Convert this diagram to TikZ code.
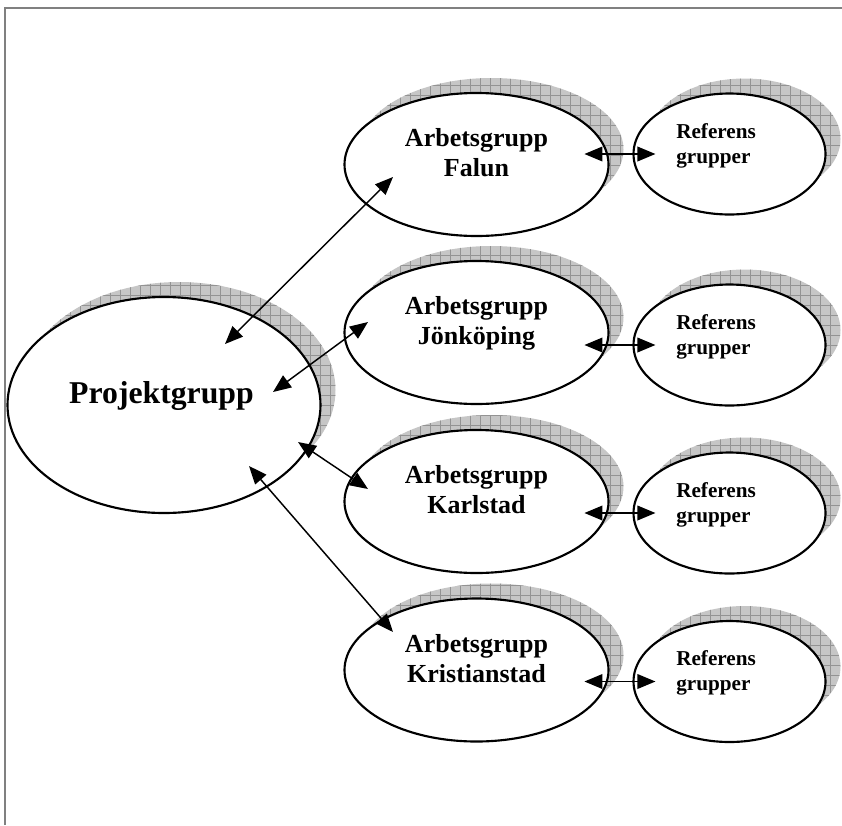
\documentclass[tikz,border=0pt]{standalone}
\usepackage{fontspec}
\setmainfont{Liberation Serif}
\usetikzlibrary{shapes.geometric,arrows.meta,calc,patterns.meta}
\begin{document}
\begin{tikzpicture}[x=0.75pt,y=-0.75pt,
  ell/.style={ellipse, draw=black, line width=1.6pt, fill=white, inner sep=0pt},
  shadowell/.style={ellipse, inner sep=0pt, fill=gray!45,
    postaction={pattern={Hatch[angle=0,distance=7.5pt,line width=0.55pt]}, pattern color=gray!85}},
  bigsize/.style={minimum width=234.75pt, minimum height=162pt},
  arbsize/.style={minimum width=198pt, minimum height=107.25pt},
  refsize/.style={minimum width=144pt, minimum height=90.75pt},
  conn/.style={{Triangle[length=13.5pt,width=11pt]}-{Triangle[length=13.5pt,width=11pt]}, line width=1.1pt},
  bigtxt/.style={font=\bfseries\fontsize{23.8}{28}\selectfont, anchor=base, inner sep=0pt},
  arbtxt/.style={font=\bfseries\fontsize{19.5}{22.5}\selectfont, align=center, anchor=base, inner sep=0pt},
  reftxt/.style={font=\bfseries\fontsize{15.9}{18.75}\selectfont, align=left, anchor=base west, inner sep=0pt},
  frame/.style={draw=gray, line width=1.5pt}
]
\useasboundingbox (0,0) rectangle (842,825);
\draw[frame] (5,825) -- (5,8) -- (842,8);

% centres
\coordinate (cP) at (164,405);
\coordinate (cF) at (476.5,164.5);
\coordinate (cJ) at (476.5,332.5);
\coordinate (cK) at (476.5,501.5);
\coordinate (cKr) at (476.5,670);
\coordinate (cR1) at (729.5,154);
\coordinate (cR2) at (729.5,345);
\coordinate (cR3) at (729.5,513);
\coordinate (cR4) at (729.5,681.5);

% shadows
\node[shadowell, bigsize] (sP) at ($(cP)+(15,-15)$) {};
\foreach \c/\n in {cF/sF, cJ/sJ, cK/sK, cKr/sKr}
  \node[shadowell, arbsize] (\n) at ($(\c)+(15,-15)$) {};
\foreach \c/\n in {cR1/sR1, cR2/sR2, cR3/sR3, cR4/sR4}
  \node[shadowell, refsize] (\n) at ($(\c)+(15,-15)$) {};

% ellipses
\node[ell, bigsize] (P) at (cP) {};
\node[ell, arbsize] (F) at (cF) {};
\node[ell, arbsize] (J) at (cJ) {};
\node[ell, arbsize] (K) at (cK) {};
\node[ell, arbsize] (Kr) at (cKr) {};
\node[ell, refsize] (R1) at (cR1) {};
\node[ell, refsize] (R2) at (cR2) {};
\node[ell, refsize] (R3) at (cR3) {};
\node[ell, refsize] (R4) at (cR4) {};

% texts (base anchor = baseline of the last line)
\node[bigtxt] (tP) at (161.5,403) {Projektgrupp};
\node[arbtxt] (tF) at ($(F)+(0,12)$) {Arbetsgrupp\\Falun};
\node[arbtxt] (tJ) at ($(J)+(0,12)$) {Arbetsgrupp\\Jönköping};
\node[arbtxt] (tK) at ($(K)+(0,12)$) {Arbetsgrupp\\Karlstad};
\node[arbtxt] (tKr) at ($(Kr)+(0,12)$) {Arbetsgrupp\\Kristianstad};
\foreach \r in {R1,R2,R3,R4}
  \node[reftxt] (t\r) at ($(\r.center)+(-53.5,9)$) {Referens\\grupper};

% connectors
\draw[conn] ($(P)+(61,-61)$) -- ($(F)+(-83.5,12.5)$);
\draw[conn] ($(P)+(109,-13)$) -- ($(J)+(-108.5,-10.5)$);
\draw[conn] ($(P)+(134,37)$) -- ($(K)+(-108.5,-12.5)$);
\draw[conn] ($(P)+(85,61)$) -- ($(Kr)+(-83.5,-38)$);
\foreach \r in {R1,R2,R3,R4}
  \draw[conn] ($(\r.west)+(-48,0)$) -- ($(\r.west)+(23,0)$);
\end{tikzpicture}
\end{document}
